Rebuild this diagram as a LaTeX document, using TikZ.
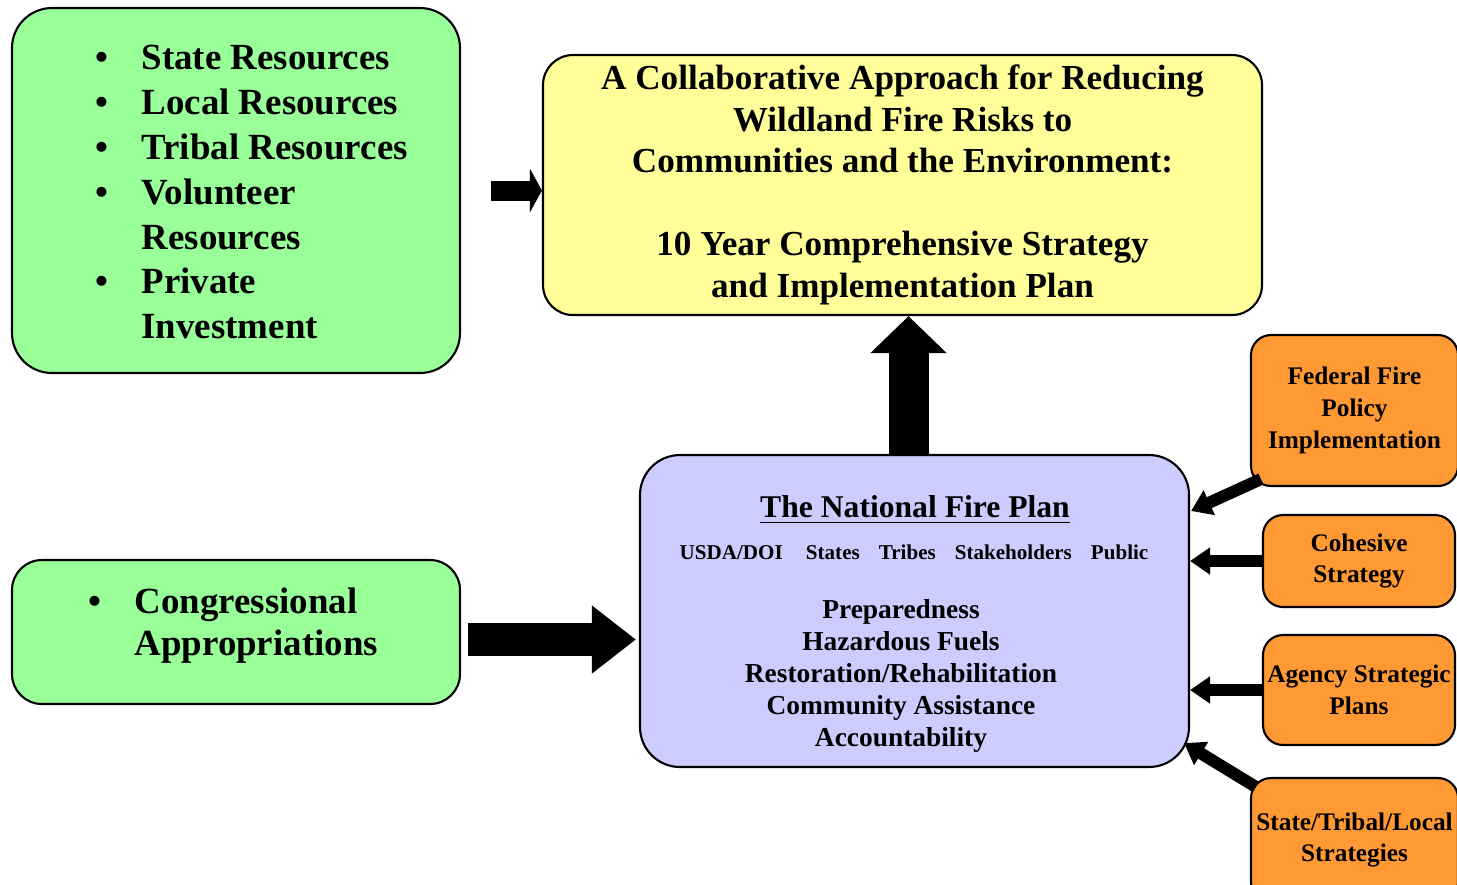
\documentclass[tikz,border=0pt]{standalone}
\usepackage{fontspec}
\setmainfont{Liberation Serif}
\usetikzlibrary{arrows.meta,calc}

\definecolor{resgreen}{HTML}{99FF99}
\definecolor{planyellow}{HTML}{FFFF99}
\definecolor{nfpblue}{HTML}{CCCCFF}
\definecolor{policyorange}{HTML}{FF9933}

\tikzset{
	box/.style={draw=black, line width=0.6pt, inner sep=0pt, align=center, font=\bfseries},
	orangebox/.style={box, fill=policyorange, rounded corners=2mm, font=\bfseries\fontsize{7.2}{9}\selectfont},
	bigarrow/.style={line width=#1},
	smallarrow/.style={line width=1.2mm, -{Triangle[length=2mm,width=2.6mm]}}
}

\begin{document}
\begin{tikzpicture}[x=0.1mm,y=-0.1mm]
		\path[use as bounding box] (0,0) rectangle (1457,884);
		\clip (0,0) rectangle (1457,884);

		% resources boxes
		\node[box, fill=resgreen, rounded corners=4mm, minimum width=44.8mm, minimum height=36.5mm] (gone) at (236,190.5) {};
		\node[box, fill=resgreen, rounded corners=3mm, minimum width=44.8mm, minimum height=14.4mm] (gtwo) at (236,632) {};

		\node[anchor=west, inner sep=0pt] (gonetext) at (95,195) {\bfseries\fontsize{10.5}{12.8}\selectfont
			\begin{tabular}{@{}l@{\hspace{3.3mm}}l@{}}
				\textbullet & State Resources\\
				\textbullet & Local Resources\\
				\textbullet & Tribal Resources\\
				\textbullet & Volunteer\\
				            & Resources\\
				\textbullet & Private\\
				            & Investment
			\end{tabular}};
		\node[anchor=west, inner sep=0pt] (gtwotext) at (88,626) {\bfseries\fontsize{10.5}{12}\selectfont
			\begin{tabular}{@{}l@{\hspace{3.3mm}}l@{}}
				\textbullet & Congressional\\
				            & Appropriations
			\end{tabular}};

		% strategy box
		\node[box, fill=planyellow, rounded corners=3mm, minimum width=71.9mm, minimum height=26mm,
			font=\bfseries\fontsize{10}{11.8}\selectfont] (collab) at (902.5,185) {A Collaborative Approach for Reducing\\
			Wildland Fire Risks to\\
			Communities and the Environment:\\[11.8pt]
			10 Year Comprehensive Strategy\\
			and Implementation Plan};

		% national fire plan
		\node[box, fill=nfpblue, rounded corners=4mm, minimum width=54.9mm, minimum height=31.2mm] (nfp) at (914.5,611) {};
		\node[anchor=base, inner sep=0pt, font=\bfseries\fontsize{9}{10}\selectfont] (nfptitle) at (915,517) {\underline{The National Fire Plan}};
		\node[anchor=base, inner sep=0pt, font=\bfseries\fontsize{6}{7}\selectfont] (nfpgroups) at (914,559) {USDA/DOI\hspace{1.1em}States\hspace{0.9em}Tribes\hspace{0.9em}Stakeholders\hspace{0.9em}Public};
		\node[inner sep=0pt, align=center, font=\bfseries\fontsize{7.8}{9.1}\selectfont] (nfpitems) at (901,676) {Preparedness\\
			Hazardous Fuels\\
			Restoration/Rehabilitation\\
			Community Assistance\\
			Accountability};

		% policy boxes
		\node[orangebox, minimum width=20.7mm, minimum height=15.1mm] (ofed) at (1354.5,410.5) {Federal Fire\\ Policy\\ Implementation};
		\node[orangebox, minimum width=19.2mm, minimum height=9.2mm] (ocoh) at (1359,561) {Cohesive\\ Strategy};
		\node[orangebox, minimum width=19.2mm, minimum height=11mm] (oagency) at (1359,690) {Agency Strategic\\ Plans};
		\node[orangebox, minimum width=20.7mm, minimum height=12.4mm] (ostate) at (1354.5,840) {State/Tribal/Local\\ Strategies};

		% arrows
		\draw[bigarrow=2mm, -{Triangle[length=1.2mm,width=4.3mm]}] ([xshift=3mm]gone.east) -- (gone.east -| collab.west);
		\draw[bigarrow=3.3mm, -{Triangle[length=4.4mm,width=6.5mm]}] ([shift={(0.7mm,-0.75mm)}]gtwo.east) -- ([shift={(-0.3mm,-0.75mm)}]gtwo.east -| nfp.west);
		\draw[bigarrow=4mm, -{Triangle[length=3.7mm,width=7.4mm]}] ([xshift=-0.6mm]nfp.north) -- ([xshift=-0.6mm]nfp.north |- collab.south);

		\draw[smallarrow] ($(ofed.south west)+(11,-8)$) -- ($(nfp.north east)+(1,57)$);
		\draw[smallarrow] (ocoh.west) -- (ocoh.west -| nfp.east);
		\draw[smallarrow] (oagency.west) -- (oagency.west -| nfp.east);
		\draw[smallarrow] ($(ostate.north west)+(6,10)$) -- ($(nfp.south east)+(-6,-25)$);
	\end{tikzpicture}
\end{document}
